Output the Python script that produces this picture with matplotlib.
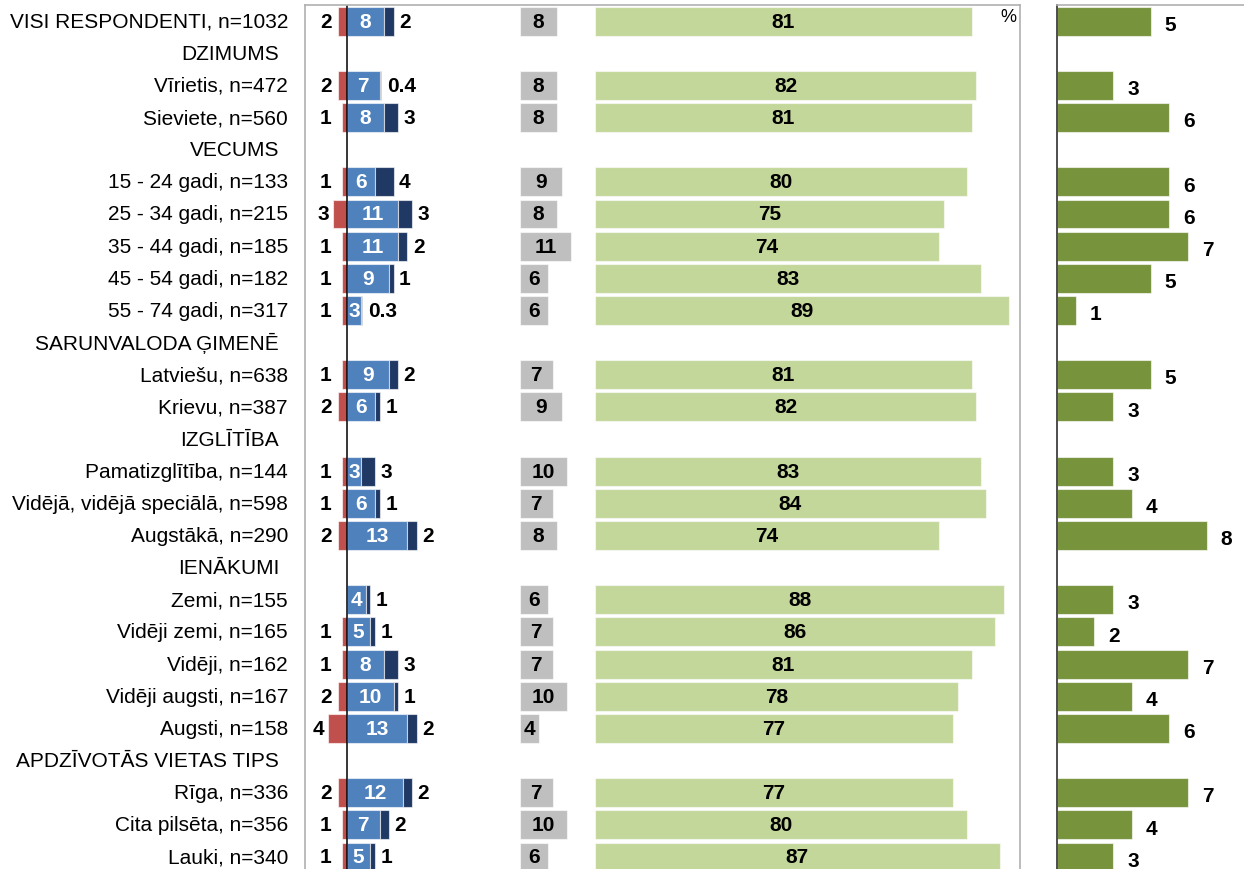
import numpy as np
import matplotlib
matplotlib.use("Agg")
import matplotlib.pyplot as plt
from matplotlib import transforms

plt.rcParams["font.family"] = ["Liberation Sans", "DejaVu Sans"]

# row labels, top to bottom; section headers carry no values
labels = [
    "VISI RESPONDENTI, n=1032", "DZIMUMS", "Vīrietis, n=472", "Sieviete, n=560",
    "VECUMS", "15 - 24 gadi, n=133", "25 - 34 gadi, n=215", "35 - 44 gadi, n=185",
    "45 - 54 gadi, n=182", "55 - 74 gadi, n=317", "SARUNVALODA ĢIMENĒ",
    "Latviešu, n=638", "Krievu, n=387", "IZGLĪTĪBA", "Pamatizglītība, n=144",
    "Vidējā, vidējā speciālā, n=598", "Augstākā, n=290", "IENĀKUMI", "Zemi, n=155",
    "Vidēji zemi, n=165", "Vidēji, n=162", "Vidēji augsti, n=167", "Augsti, n=158",
    "APDZĪVOTĀS VIETAS TIPS", "Rīga, n=336", "Cita pilsēta, n=356", "Lauki, n=340",
]
headers = {"DZIMUMS", "VECUMS", "SARUNVALODA ĢIMENĒ", "IZGLĪTĪBA", "IENĀKUMI",
           "APDZĪVOTĀS VIETAS TIPS"}

nan = np.nan
red = [2, nan, 2, 1, nan, 1, 3, 1, 1, 1, nan, 1, 2, nan, 1, 1, 2, nan, 0, 1, 1, 2, 4, nan, 2, 1, 1]
light_blue = [8, nan, 7, 8, nan, 6, 11, 11, 9, 3, nan, 9, 6, nan, 3, 6, 13, nan, 4, 5, 8, 10, 13, nan, 12, 7, 5]
dark_blue = [2, nan, 0.4, 3, nan, 4, 3, 2, 1, 0.3, nan, 2, 1, nan, 3, 1, 2, nan, 1, 1, 3, 1, 2, nan, 2, 2, 1]
grey = [8, nan, 8, 8, nan, 9, 8, 11, 6, 6, nan, 7, 9, nan, 10, 7, 8, nan, 6, 7, 7, 10, 4, nan, 7, 10, 6]
green = [81, nan, 82, 81, nan, 80, 75, 74, 83, 89, nan, 81, 82, nan, 83, 84, 74, nan, 88, 86, 81, 78, 77, nan, 77, 80, 87]
olive = [5, nan, 3, 6, nan, 6, 6, 7, 5, 1, nan, 5, 3, nan, 3, 4, 8, nan, 3, 2, 7, 4, 6, nan, 7, 4, 3]

C_RED = "#C0504D"
C_LBLUE = "#4F81BD"
C_DBLUE = "#1F3864"
C_GREY = "#BFBFBF"
C_LGREEN = "#C4D79B"
C_OLIVE = "#77933C"
EDGE = (1, 1, 1, 0.6)

W, H = 1244, 870
fig = plt.figure(figsize=(W / 100, H / 100), dpi=100)

n = len(labels)
row_px = 32.15
top_px = 6
ax_h = n * row_px


def fig_rect(x0, x1, top):
    bottom = top + ax_h
    return [x0 / W, (H - bottom) / H, (x1 - x0) / W, ax_h / H]


ax = fig.add_axes(fig_rect(305, 1020, top_px))
ax2 = fig.add_axes(fig_rect(1057, 1250, top_px))

y = np.arange(n)
bh = 0.9
px_unit = 4.65
grey_off = (520 - 347) / px_unit
green_off = (595 - 347) / px_unit

ax.set_xlim(-42 / px_unit, 673 / px_unit)
ax.set_ylim(n - 0.5, -0.5)

red_a = np.array(red, float)
lb = np.array(light_blue, float)
db = np.array(dark_blue, float)
gr = np.array(grey, float)
gn = np.array(green, float)

ax.barh(y, -red_a, height=bh, color=C_RED, edgecolor=EDGE, linewidth=0.8)
ax.barh(y, lb, height=bh, color=C_LBLUE, edgecolor=EDGE, linewidth=0.8)
ax.barh(y, db, left=lb, height=bh, color=C_DBLUE, edgecolor=EDGE, linewidth=0.8)
ax.barh(y, gr, left=grey_off, height=bh, color=C_GREY, edgecolor=EDGE, linewidth=0.8)
ax.barh(y, gn, left=green_off, height=bh, color=C_LGREEN, edgecolor=EDGE, linewidth=0.8)
ax.axvline(0, color="black", linewidth=1.1)


def fmt(v):
    return f"{v:g}"


lab_kw = dict(fontsize=15, fontweight="bold", va="center")
for i in range(n):
    if labels[i] in headers:
        continue
    if red_a[i] > 0:
        ax.text(min(-red_a[i] - 0.9, -3.3), i, fmt(red_a[i]), ha="right", color="black", **lab_kw)
    ax.text(lb[i] / 2, i, fmt(lb[i]), ha="center", color="white", **lab_kw)
    ax.text(lb[i] + db[i] + 1.2, i, fmt(db[i]), ha="left", color="black", **lab_kw)
    ax.text(grey_off + gr[i] / 2, i, fmt(gr[i]), ha="center", color="black", **lab_kw)
    ax.text(green_off + gn[i] / 2, i, fmt(gn[i]), ha="center", color="black", **lab_kw)

ax.text(1008, 18, "%", transform=transforms.Affine2D().scale(1, -1).translate(0, H) + fig.dpi_scale_trans.inverted() + fig.dpi_scale_trans,
        ha="center", va="center", fontsize=13)

ax.set_xticks([])
ax.set_yticks([])
for s in ax.spines.values():
    s.set_color("#B0B0B0")
    s.set_linewidth(1.2)

# category labels to the left of the main panel
tr = transforms.blended_transform_factory(fig.transFigure, ax.transData)
for i, lab in enumerate(labels):
    x = 279 if lab in headers else 288
    ax.text(x / W, i, lab, transform=tr, ha="right", va="center", fontsize=15)

# right panel
ol = np.array(olive, float)
ax2.set_xlim(0, (1250 - 1057) / 18.7)
ax2.set_ylim(n - 0.5, -0.5)
ax2.barh(y, ol, height=bh, color=C_OLIVE, edgecolor=EDGE, linewidth=0.8)
for i in range(n):
    if not np.isnan(ol[i]):
        ax2.text(ol[i] + 0.75, i + 0.1, fmt(ol[i]), ha="left", color="black", **lab_kw)
ax2.set_xticks([])
ax2.set_yticks([])
ax2.spines["left"].set_color("#404040")
ax2.spines["left"].set_linewidth(1.3)
ax2.spines["top"].set_color("#B0B0B0")
ax2.spines["top"].set_linewidth(1.2)
ax2.spines["right"].set_visible(False)
ax2.spines["bottom"].set_visible(False)

fig.savefig("out.png", dpi=100)
